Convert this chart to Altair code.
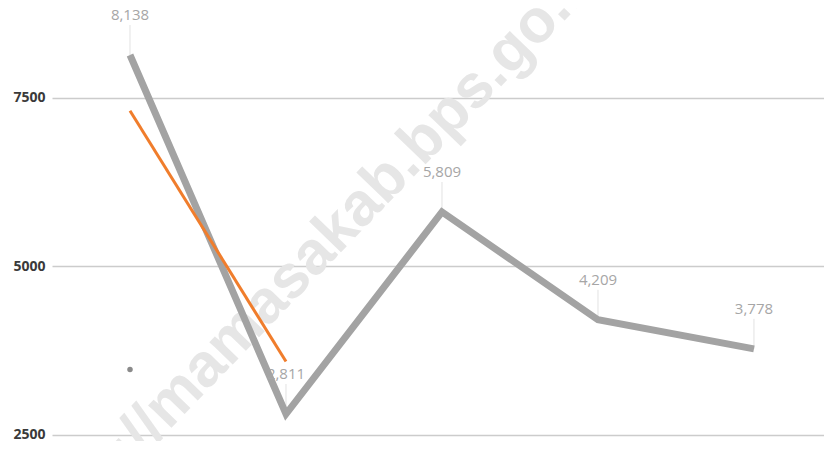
import altair as alt
import pandas as pd

# Data
idx = [0, 1, 2, 3, 4]
main_values = [8138, 2811, 5809, 4209, 3778]
main_labels = ["8,138", "2,811", "5,809", "4,209", "3,778"]

orange_idx = [0, 1]
orange_values = [7310, 3590]

dot_idx = [0]
dot_values = [3470]

y_ticks = [2500, 5000, 7500]
watermark = "http://mamasakab.bps.go.id"

main_df = pd.DataFrame({"i": idx, "v": main_values, "lab": main_labels})
orange_df = pd.DataFrame({"i": orange_idx, "v": orange_values})
dot_df = pd.DataFrame({"i": dot_idx, "v": dot_values})
wm_df = pd.DataFrame({"t": [watermark]})

x_scale = alt.Scale(domain=[-0.5, 4.449], nice=False, zero=False)
y_scale = alt.Scale(domain=[2470, 8776], nice=False, zero=False)

x_enc = alt.X("i:Q", scale=x_scale, axis=None)

base_axis = alt.Axis(
    values=y_ticks, title=None, grid=True, gridColor="#cccccc", gridWidth=1.5,
    domain=False, ticks=False, labelPadding=7, labelFontSize=14, format="d",
    labelColor="#3a3a3a", labelFont="Open Sans", labelFontWeight="bold",
)

wm = alt.Chart(wm_df).mark_text(
    angle=314, fontSize=61, fontWeight="bold", font="Liberation Sans",
    color="#e6e6e6", align="center", baseline="middle",
).encode(x=alt.value(318 - 52), y=alt.value(250 - 12), text="t:N")

grid = alt.Chart(main_df).mark_line(opacity=0).encode(
    x=x_enc, y=alt.Y("v:Q", scale=y_scale, axis=base_axis)
)

leaders = alt.Chart(main_df).mark_rule(color="#e2e2e2", strokeWidth=1, y2Offset=-30).encode(
    x=x_enc, y=alt.Y("v:Q", scale=y_scale), y2="v:Q"
)

main_line = alt.Chart(main_df).mark_line(color="#a3a3a3", strokeWidth=7, strokeJoin="miter").encode(
    x=x_enc, y=alt.Y("v:Q", scale=y_scale)
)

orange_line = alt.Chart(orange_df).mark_line(color="#f07d2c", strokeWidth=3).encode(
    x=x_enc, y=alt.Y("v:Q", scale=y_scale)
)

dot = alt.Chart(dot_df).mark_point(filled=True, color="#8a8a8a", size=30, opacity=1).encode(
    x=x_enc, y=alt.Y("v:Q", scale=y_scale)
)

labels = alt.Chart(main_df).mark_text(
    dy=-35, fontSize=15, color="#a6a6a6", font="Open Sans", baseline="alphabetic", align="center"
).encode(x=x_enc, y=alt.Y("v:Q", scale=y_scale), text="lab:N")

chart = alt.layer(wm, grid, leaders, main_line, orange_line, dot, labels).properties(
    width=772, height=425,
    autosize=alt.AutoSizeParams(type="none"),
    padding={"left": 44, "top": 4, "right": 0, "bottom": 4},
).configure(background="white", view=alt.ViewConfig(stroke=None))

chart.save("out.html", embed_options={"renderer": "svg", "actions": False})
